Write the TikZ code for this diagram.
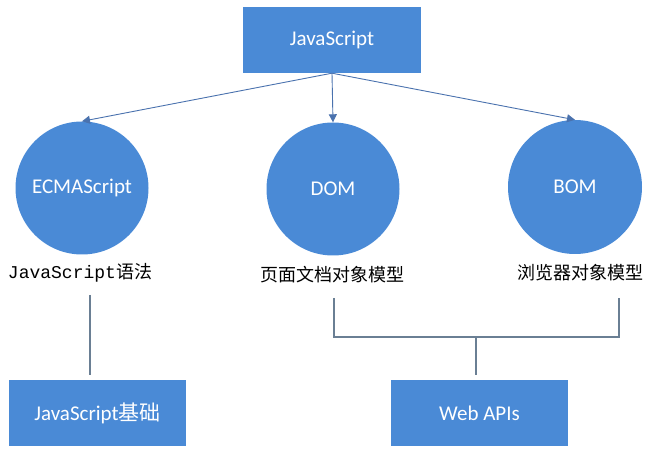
\documentclass[tikz,border=0pt]{standalone}
\usepackage{fontspec}
\setmainfont{Carlito}
\newfontfamily\cjk{Noto Sans CJK SC}
\newfontfamily\monofont{Liberation Mono}
\usetikzlibrary{arrows.meta}
\definecolor{boxblue}{HTML}{4A8AD6}
\definecolor{arrowblue}{HTML}{4A72AE}
\definecolor{linegray}{HTML}{6A7F94}
\tikzset{
  bluebox/.style={draw=none, fill=boxblue, minimum width=177pt, minimum height=66pt, inner sep=0pt, text=white, font=\fontsize{21}{24}\selectfont},
  bluecirc/.style={circle, draw=none, fill=boxblue, minimum size=133pt, inner sep=0pt, text=white, font=\fontsize{21}{24}\selectfont},
  caption/.style={inner sep=0pt, text=black, font=\fontsize{18}{21}\selectfont},
  arrowline/.style={draw=arrowblue, line width=0.9pt, -{Triangle[length=8pt,width=8pt]}},
  plainline/.style={draw=linegray, line width=1.1pt},
}
\begin{document}
\begin{tikzpicture}[x=1pt,y=-1pt]
\useasboundingbox (0,0) rectangle (649,454);
\node[bluebox, minimum width=178pt] (js) at (332,40) {JavaScript};
\node[bluecirc] (ecma) at (82,188) {ECMAScript};
\node[bluecirc] (dom) at (333,189) {DOM};
\node[bluecirc, minimum size=134pt] (bom) at (575,187) {BOM};
\node[caption] (l1) at (80,273) {{\monofont JavaScript}{\cjk 语法}};
\node[caption] (l2) at (332,275) {\cjk 页面文档对象模型};
\node[caption] (l3) at (580,273) {\cjk 浏览器对象模型};
\node[bluebox] (base) at (97.5,413) {JavaScript{\cjk 基础}};
\node[bluebox] (web) at (479.5,413) {Web APIs};
\draw[arrowline] (js.south) -- (ecma.north);
\draw[arrowline] (js.south) -- (dom.north);
\draw[arrowline] (js.south) -- (bom.north);
\coordinate (a1) at (90,295);
\coordinate (a2) at (90,375);
\draw[plainline] (a1) -- (a2);
\coordinate (b1) at (334,298);
\coordinate (b2) at (619,298);
\coordinate (bm) at (476,337);
\coordinate (b3) at (476,375);
\draw[plainline] (b1) |- (bm) -| (b2);
\draw[plainline] (bm) -- (b3);
\end{tikzpicture}
\end{document}
